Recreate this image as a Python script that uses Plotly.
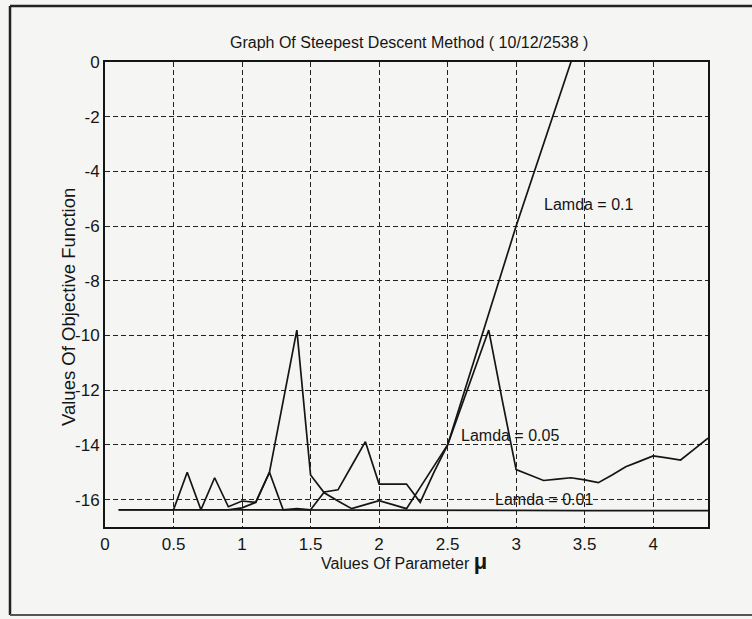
import plotly.graph_objects as go

# ---------------- data ----------------
mu_lam01 = [0.1, 0.2, 0.3, 0.4, 0.5, 0.6, 0.7, 0.8, 0.9, 1.0,
            1.1, 1.2, 1.3, 1.4, 1.5, 1.6, 1.7, 1.8, 1.9, 2.0,
            2.1, 2.2, 2.3, 2.4, 2.5, 2.6, 2.7, 2.8, 2.9, 3.0,
            3.1, 3.2, 3.3, 3.4, 3.5]
obj_lam01 = [-16.37, -16.37, -16.37, -16.37, -16.37, -16.37, -16.37, -16.37, -16.37, -16.30,
             -16.10, -15.00, -12.40, -9.80, -15.10, -15.75, -16.05, -16.33, -16.18, -16.04,
             -16.18, -16.33, -15.55, -14.77, -14.00, -12.40, -10.80, -9.20, -7.60, -6.00,
             -4.50, -3.00, -1.50, 0.00, 1.50]

mu_lam005 = [0.1, 0.2, 0.3, 0.4, 0.5, 0.6, 0.7, 0.8, 0.9, 1.0,
             1.1, 1.2, 1.3, 1.4, 1.5, 1.6, 1.7, 1.8, 1.9, 2.0,
             2.1, 2.2, 2.3, 2.4, 2.5, 2.6, 2.7, 2.8, 2.9, 3.0,
             3.1, 3.2, 3.3, 3.4, 3.5, 3.6, 3.7, 3.8, 3.9, 4.0,
             4.1, 4.2, 4.3, 4.4]
obj_lam005 = [-16.37, -16.37, -16.37, -16.37, -16.37, -15.00, -16.37, -15.20, -16.26, -16.05,
              -16.10, -15.00, -16.37, -16.33, -16.37, -15.72, -15.64, -14.76, -13.88, -15.43,
              -15.43, -15.43, -16.10, -15.00, -14.00, -12.60, -11.20, -9.80, -12.40, -14.90,
              -15.10, -15.30, -15.25, -15.20, -15.28, -15.38, -15.10, -14.80, -14.60, -14.40,
              -14.47, -14.55, -14.15, -13.75]

mu_lam001 = [0.1, 0.5, 1.0, 1.5, 2.0, 2.5, 3.0, 3.5, 4.0, 4.4]
obj_lam001 = [-16.37, -16.37, -16.38, -16.38, -16.38, -16.39, -16.39, -16.40, -16.40, -16.40]

x_tick_vals = [0, 0.5, 1, 1.5, 2, 2.5, 3, 3.5, 4]
x_tick_text = ["0", "0.5", "1", "1.5", "2", "2.5", "3", "3.5", "4"]
y_tick_vals = [0, -2, -4, -6, -8, -10, -12, -14, -16]
y_tick_text = ["0", "-2", "-4", "-6", "-8", "-10", "-12", "-14", "-16"]

series_names = ["Lamda = 0.1", "Lamda = 0.05", "Lamda = 0.01"]

# ---------------- figure ----------------
FONT = "Liberation Sans, Arial, Helvetica, sans-serif"
INK = "#151515"
BG = "#f5f5f3"

fig = go.Figure()
for xs, ys, nm in [(mu_lam01, obj_lam01, series_names[0]),
                   (mu_lam005, obj_lam005, series_names[1]),
                   (mu_lam001, obj_lam001, series_names[2])]:
    fig.add_trace(go.Scatter(x=xs, y=ys, mode="lines", name=nm,
                             line=dict(color=INK, width=1.7),
                             showlegend=False))

# plot-area pixel geometry (for placing frame / texts in paper coords)
L, R, T, B = 105, 708, 62, 527
W, H = 752, 619
pw, ph = R - L, B - T

def px_x(p):
    return (p - L) / pw

def px_y(p):
    return (B - p) / ph

axis_common = dict(showline=True, linecolor=INK, linewidth=2, mirror=True,
                   showgrid=True, gridcolor="#222222", gridwidth=1.3,
                   griddash="5px,3px", zeroline=False, ticks="",
                   tickfont=dict(family=FONT, size=17, color=INK))

fig.update_xaxes(range=[0, 4.4], tickvals=x_tick_vals, ticktext=x_tick_text,
                 ticklabelstandoff=1, **axis_common)
fig.update_yaxes(range=[-17, 0], tickvals=y_tick_vals, ticktext=y_tick_text,
                 ticklabelstandoff=0, **axis_common)

annotations = [
    dict(x=3.19, y=-5.22, xref="x", yref="y", text=series_names[0],
         showarrow=False, xanchor="left", yanchor="middle",
         font=dict(family=FONT, size=16, color=INK)),
    dict(x=2.58, y=-13.66, xref="x", yref="y", text=series_names[1],
         showarrow=False, xanchor="left", yanchor="middle",
         font=dict(family=FONT, size=16, color=INK)),
    dict(x=2.83, y=-15.98, xref="x", yref="y", text=series_names[2],
         showarrow=False, xanchor="left", yanchor="middle",
         font=dict(family=FONT, size=16, color=INK)),
    dict(x=px_x(409), y=px_y(42), xref="paper", yref="paper",
         text="Graph Of Steepest Descent Method ( 10/12/2538 )",
         showarrow=False, xanchor="center", yanchor="middle",
         font=dict(family=FONT, size=16, color=INK)),
    dict(x=px_x(404), y=px_y(561), xref="paper", yref="paper",
         text="Values Of Parameter <span style='font-size:22px'><b>\u03bc</b></span>",
         showarrow=False, xanchor="center", yanchor="middle",
         font=dict(family=FONT, size=16, color=INK)),
    dict(x=px_x(68), y=px_y(307), xref="paper", yref="paper",
         text="Values Of Objective Function", textangle=-90,
         showarrow=False, xanchor="center", yanchor="middle",
         font=dict(family=FONT, size=18.5, color=INK)),
]

frame = dict(color="#222222", width=2.5)
shapes = [
    dict(type="line", xref="paper", yref="paper",
         x0=px_x(10), x1=px_x(10), y0=px_y(6), y1=px_y(615), line=frame),
    dict(type="line", xref="paper", yref="paper",
         x0=px_x(10), x1=px_x(752), y0=px_y(6), y1=px_y(6), line=frame),
    dict(type="line", xref="paper", yref="paper",
         x0=px_x(10), x1=px_x(752), y0=px_y(615), y1=px_y(615),
         line=dict(color="#555555", width=2)),
]

fig.update_layout(
    width=W, height=H,
    margin=dict(l=L, r=W - R, t=T, b=H - B, pad=0),
    paper_bgcolor=BG, plot_bgcolor=BG,
    annotations=annotations, shapes=shapes,
    font=dict(family=FONT, size=16, color=INK),
)

fig.write_html(
    "out.html",
    config={"displayModeBar": False},
    post_script=("document.documentElement.style.overflow='hidden';"
                 "document.body.style.overflow='hidden';"
                 "document.body.style.margin='0';"),
)
